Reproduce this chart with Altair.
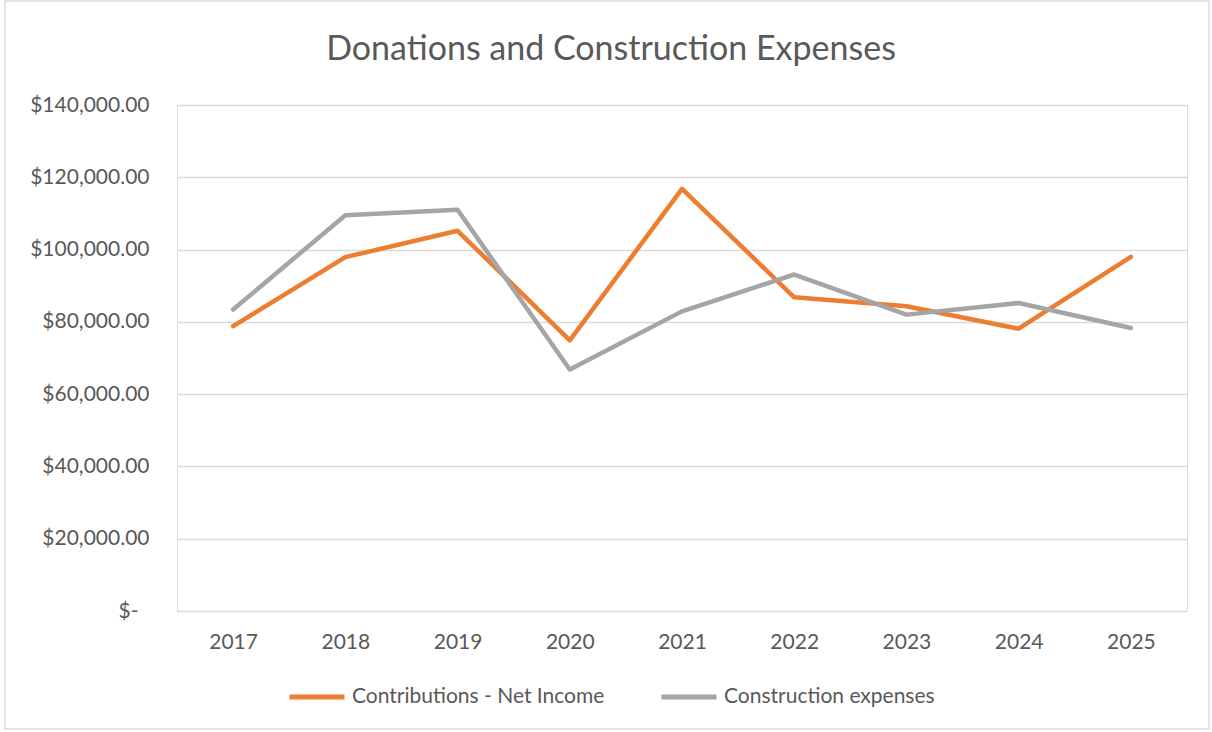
import altair as alt
import pandas as pd

years = ["2017", "2018", "2019", "2020", "2021", "2022", "2023", "2024", "2025"]
contributions = [78800, 97900, 105200, 74900, 116800, 86800, 84300, 78100, 98000]
construction = [83400, 109500, 111000, 66800, 82900, 93100, 82000, 85200, 78300]
series_names = ["Contributions - Net Income", "Construction expenses"]
series_colors = ["#ED7D31", "#A5A5A5"]
y_ticks = [0, 20000, 40000, 60000, 80000, 100000, 120000, 140000]

rows = []
for y, v in zip(years, contributions):
    rows.append({"year": y, "series": series_names[0], "value": v, "order": 0})
for y, v in zip(years, construction):
    rows.append({"year": y, "series": series_names[1], "value": v, "order": 1})
df = pd.DataFrame(rows)

FONT = "Lato"
TXT = "#595959"

x_enc = alt.X("year:O", scale=alt.Scale(type="point", padding=0.5),
              axis=alt.Axis(title=None, labelAngle=0, labelFont=FONT, labelFontSize=21,
                            labelColor=TXT, labelPadding=20, ticks=False, domain=False, grid=False))
y_enc = alt.Y("value:Q", scale=alt.Scale(domain=[0, 140000], nice=False),
              axis=alt.Axis(title=None, values=y_ticks, labelFont=FONT, labelFontSize=21,
                            labelColor=TXT,
                            labelPadding={"condition": {"test": "datum.value == 0", "value": 39}, "value": 28},
                            ticks=False, domain=False,
                            gridColor="#D9D9D9", gridWidth=1.3,
                            labelExpr="datum.value == 0 ? '$-' : '$' + format(datum.value, ',.2f')"))
color_enc = alt.Color("series:N",
                      scale=alt.Scale(domain=series_names, range=series_colors),
                      legend=alt.Legend(title=None, orient="none", direction="horizontal",
                                        legendX=110, legendY=562, labelLimit=0,
                                        symbolType="stroke", symbolSize=3025, symbolStrokeWidth=5,
                                        labelFont=FONT, labelFontSize=21, labelColor=TXT,
                                        labelOffset=5, columnPadding=46))

base = alt.Chart(df)
line_a = base.transform_filter(alt.datum.order == 0).mark_line(
    strokeWidth=4.5, strokeCap="round", strokeJoin="round").encode(x=x_enc, y=y_enc, color=color_enc)
line_b = base.transform_filter(alt.datum.order == 1).mark_line(
    strokeWidth=4.5, strokeCap="round", strokeJoin="round").encode(x=x_enc, y=y_enc, color=color_enc)

border = alt.Chart(pd.DataFrame({"a": [0]})).mark_rect(
    fill=None, stroke="#D9D9D9", strokeWidth=1.3).encode(
    x=alt.value(5 - 177), x2=alt.value(1209 - 177),
    y=alt.value(1 - 105), y2=alt.value(729 - 105))

chart = alt.layer(border, line_a, line_b).properties(
    width=1010, height=506,
    padding={"left": 177, "top": 105, "right": 25, "bottom": 121},
    autosize=alt.AutoSizeParams(type="none"),
    title=alt.TitleParams("Donations and Construction Expenses", font=FONT, fontSize=34,
                          fontWeight="normal", color=TXT, anchor="middle", dx=-71,
                          offset=0, dy=67),
).configure_view(stroke=None).configure(background="white")

chart.save("out.html", embed_options={"renderer": "svg", "actions": False})
